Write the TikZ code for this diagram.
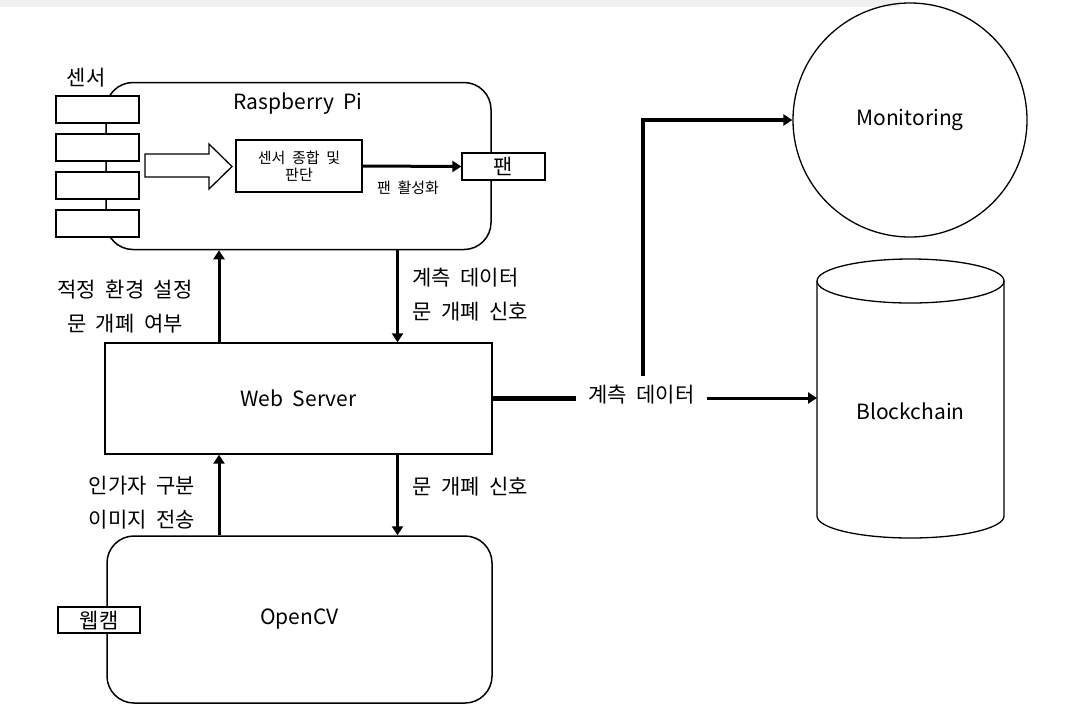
\documentclass[tikz,border=0pt]{standalone}
\usepackage{fontspec}
\setmainfont{Noto Sans CJK KR}[WordSpace=2]
\usetikzlibrary{arrows.meta}
\definecolor{bandgray}{HTML}{F0F0F0}

\begin{document}
\begin{tikzpicture}[x=1pt,y=-1pt,
  box/.style={draw,line width=1.3pt,fill=white,inner sep=0pt},
  rbox/.style={draw,line width=1.5pt,rounded corners=27pt,minimum width=385pt,minimum height=167pt},
  big/.style={font=\fontsize{21pt}{25pt}\selectfont},
  txt/.style={font=\fontsize{21pt}{34pt}\selectfont},
  small/.style={font=\fontsize{15pt}{16.5pt}\selectfont},
  conn/.style={line width=3pt,-{Triangle[length=9pt,width=11pt]}}]

\useasboundingbox (0,0) rectangle (1078,713);
\fill[bandgray] (0,0) rectangle (900,7);

% Raspberry Pi
\node[rbox] (rpi) at (298.5,166) {};
\node[big] (rpilbl) at (298,104) {Raspberry Pi};
\node[txt] (sen) at (86,78) {센서};
\foreach \i/\y in {1/109.5,2/147.5,3/185.5,4/223.5}
  \node[box,minimum width=83pt,minimum height=27pt] (s\i) at (97.5,\y) {};
\draw[line width=1.3pt] (145,154) -- (209,154) -- (209,144) -- (232,166.5) -- (209,189) -- (209,177) -- (145,177) -- cycle;
\node[box,small,align=center,minimum width=126pt,minimum height=52pt] (proc) at (299,166) {센서 종합 및\\판단};
\node[box,txt,minimum width=83pt,minimum height=27pt] (fan) at (503.5,166.5) {팬};
\draw[conn] (proc.east) -- (fan.west);
\node[small] (fanon) at (408,188) {팬 활성화};

% Web Server and OpenCV
\node[box,big,minimum width=387pt,minimum height=111pt] (ws) at (298.5,398.5) {Web Server};
\node[rbox,big] (opencv) at (299.5,619.5) {OpenCV};
\node[box,txt,minimum width=82pt,minimum height=26pt] (cam) at (99,620) {웹캠};

\coordinate (lx) at (219,0);
\coordinate (rx) at (397.5,0);
\draw[conn] (ws.north -| lx) -- (rpi.south -| lx);
\draw[conn] (rpi.south -| rx) -- (ws.north -| rx);
\draw[conn] (opencv.north -| lx) -- (ws.south -| lx);
\draw[conn] (ws.south -| rx) -- (opencv.north -| rx);

\node[txt,align=center] (setlbl) at (125,307) {적정 환경 설정\\문 개폐 여부};
\node[txt,align=left,anchor=west] (uplbl) at (409,295) {계측 데이터\\문 개폐 신호};
\node[txt,align=center] (imglbl) at (142,503) {인가자 구분\\이미지 전송};
\node[txt,anchor=west] (downlbl) at (409,487) {문 개폐 신호};

% Monitoring and Blockchain
\node[draw,circle,line width=1.3pt,minimum size=234pt,big] (mon) at (910,120) {Monitoring};
\node[big] (chain) at (910.5,411) {Blockchain};
\draw[line width=1.3pt] (910.5,281) ellipse [x radius=93.5, y radius=22];
\draw[line width=1.3pt] (817,281) -- (817,516) arc[start angle=180,end angle=0,x radius=93.5,y radius=22] -- (1004,281);

\node[txt,inner xsep=12pt] (data) at (641.5,395) {계측 데이터};
\draw[line width=5pt] (ws.east) -- (ws.east -| data.west);
\coordinate (chainin) at (817,398);
\draw[conn] (data.east |- chainin) -- (chainin);
\draw[conn,line width=3.5pt,shorten <=6pt] ([xshift=1.5pt]data.north) -- ([xshift=1.5pt]data.north |- mon.west) -- (mon.west);
\end{tikzpicture}
\end{document}
